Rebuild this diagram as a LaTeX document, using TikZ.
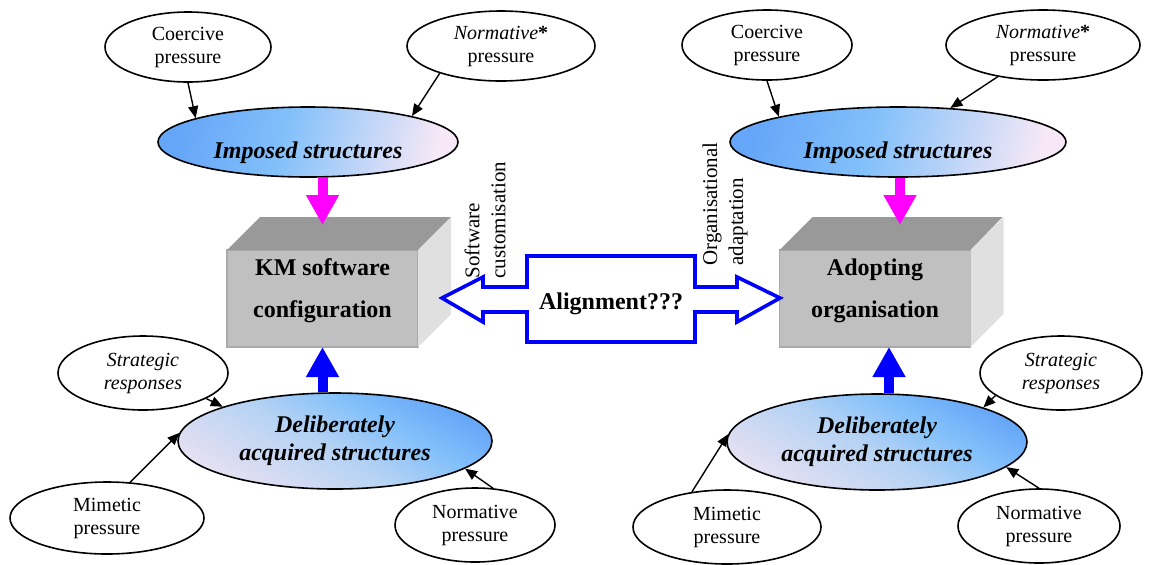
\documentclass[tikz,border=0pt]{standalone}
\usepackage{fontspec}
\setmainfont{Liberation Serif}
\usetikzlibrary{shapes.geometric,arrows.meta}

\definecolor{impA}{HTML}{66A6F8}
\definecolor{impB}{HTML}{82C0FA}
\definecolor{impC}{HTML}{F6E8F6}
\definecolor{delC}{HTML}{E6E0F2}
\definecolor{delB}{HTML}{B4D2F4}
\definecolor{boxtop}{HTML}{999999}
\definecolor{boxfront}{HTML}{C0C0C0}
\definecolor{boxside}{HTML}{E0E0E0}
\definecolor{boxedge}{HTML}{AAAAAA}
\definecolor{pinkarrow}{HTML}{FF00FF}
\definecolor{bluearrow}{HTML}{0000FF}

\pgfdeclarehorizontalshading{impshade}{100bp}{color(0bp)=(impA); color(25bp)=(impA); color(45bp)=(impB); color(75bp)=(impC); color(100bp)=(impC)}
\pgfdeclarehorizontalshading{delshade}{100bp}{color(0bp)=(delC); color(25bp)=(delC); color(48bp)=(delB); color(62bp)=(impB); color(75bp)=(impA); color(100bp)=(impA)}

\tikzset{
  press/.style={draw, ellipse, line width=.8pt, inner sep=0pt, align=center, fill=white, font=\fontsize{10}{11.5}\selectfont},
  struct/.style={draw, ellipse, line width=.8pt, inner sep=0pt, align=center, font=\fontsize{12}{14}\selectfont\bfseries\itshape},
  imp/.style={shade, shading=impshade, shading angle=-15, text height=19pt, text depth=3pt},
  del/.style={shade, shading=delshade, shading angle=60},
  front/.style={fill=boxfront, draw=boxedge, line width=.8pt, inner sep=0pt, outer sep=0pt, minimum width=95.5pt, minimum height=48.5pt, align=center, font=\fontsize{12}{21}\selectfont\bfseries},
  sidetext/.style={inner sep=0pt, align=left, rotate=90, anchor=west, font=\fontsize{10.5}{13}\selectfont},
  conn/.style={-{Triangle[length=6pt,width=5pt]}, line width=.7pt},
  fatarrow/.style={-{Triangle[length=15pt,width=15.5pt]}, line width=5pt},
  dbl/.style={draw=bluearrow, line width=1.8pt, fill=white, line join=miter}
}

\begin{document}
\begin{tikzpicture}[x=0.5pt, y=-0.5pt]
  \useasboundingbox (0,0) rectangle (1162,564);

  %%left pressures
  \node[press, minimum width=83pt, minimum height=35pt] (coe1) at (188,47) {Coercive\\pressure};
  \node[press, minimum width=94pt, minimum height=35pt] (nor1) at (501,46) {\textit{Normative}\textbf{*}\\pressure};
  \node[press, minimum width=85pt, minimum height=37pt] (str1) at (143,373) {\textit{Strategic}\\\textit{responses}};
  \node[press, minimum width=97pt, minimum height=36pt] (mim1) at (107,518) {Mimetic\\pressure};
  \node[press, minimum width=80pt, minimum height=37pt] (nb1) at (475,525) {Normative\\pressure};

  %%right pressures
  \node[press, minimum width=85pt, minimum height=35pt] (coe2) at (767,45) {Coercive\\pressure};
  \node[press, minimum width=97pt, minimum height=35pt] (nor2) at (1043,45) {\textit{Normative}\textbf{*}\\pressure};
  \node[press, minimum width=81pt, minimum height=37pt] (str2) at (1061,373) {\textit{Strategic}\\\textit{responses}};
  \node[press, minimum width=94pt, minimum height=37pt] (mim2) at (727,527) {Mimetic\\pressure};
  \node[press, minimum width=81pt, minimum height=37pt] (nb2) at (1039,526) {Normative\\pressure};

  %%structures
  \node[struct, imp, minimum width=150pt, minimum height=35pt] (imp1) at (308,142) {Imposed structures};
  \node[struct, imp, minimum width=168pt, minimum height=35pt] (imp2) at (898,142) {Imposed structures};
  \node[struct, del, minimum width=157pt, minimum height=48pt] (del1) at (335,441) {Deliberately\\acquired structures};
  \node[struct, del, minimum width=150pt, minimum height=48pt] (del2) at (877,442) {Deliberately\\acquired structures};

  %%box L
  \node[front] (km) at (322.5,298.5) {KM software\\configuration\rule[-10.6pt]{0pt}{1pt}};
  \fill[boxtop] (km.north west) -- ++(33,-33) -- ++(191,0) -- (km.north east) -- cycle;
  \fill[boxside] (km.north east) -- ++(33,-33) -- ++(0,97) -- (km.south east) -- cycle;

  %%box R
  \node[front] (org) at (875,298.5) {Adopting\\organisation\rule[-10.6pt]{0pt}{1pt}};
  \fill[boxtop] (org.north west) -- ++(33,-33) -- ++(190,0) -- (org.north east) -- cycle;
  \fill[boxside] (org.north east) -- ++(33,-33) -- ++(0,97) -- (org.south east) -- cycle;

  %%fat arrows
  \coordinate (kmtop) at ([yshift=12.5pt]km.north);
  \draw[fatarrow, pinkarrow] (imp1.south -| kmtop) to (kmtop);
  \draw[fatarrow, bluearrow] (del1.north -| km.south) to (km.south);
  \coordinate (orgtop) at ([xshift=12.5pt, yshift=12.5pt]org.north);
  \draw[fatarrow, pinkarrow] (imp2.south -| orgtop) to (orgtop);
  \coordinate (orgbot) at ([xshift=7pt]org.south);
  \draw[fatarrow, bluearrow] (del2.north -| orgbot) to (orgbot);

  %%thin arrows
  \draw[conn] (coe1.south) to (imp1.168);
  \draw[conn] (nor1.204) to (imp1.14);
  \draw[conn] (str1.338) to (del1.163);
  \draw[conn] (mim1.57) to (del1.177);
  \draw[conn] (nb1.64) to (del1.348);
  \draw[conn] (coe2.south) to (imp2.168);
  \draw[conn] (nor2.215) to (imp2.33);
  \draw[conn] (str2.199) to (del2.18);
  \draw[conn] (mim2.135) to (del2.177);
  \draw[conn] (nb2.north) to (del2.349);

  %%alignment
  \draw[dbl] (442,298) -- (483,277) -- (483,287) -- (527,287) -- (527,256)
    -- (695,256) -- (695,287) -- (737,287) -- (737,277) -- (780,298)
    -- (737,322) -- (737,312) -- (695,312) -- (695,342) -- (527,342)
    -- (527,312) -- (483,312) -- (483,322) -- cycle;
  \node[font=\fontsize{12}{14}\selectfont\bfseries] (alg) at (611,304) {Alignment???};
  \node[sidetext] (cust) at (485,279) {Software\\customisation};
  \node[sidetext] (adapt) at (725,266) {Organisational\\adaptation};
\end{tikzpicture}
\end{document}
